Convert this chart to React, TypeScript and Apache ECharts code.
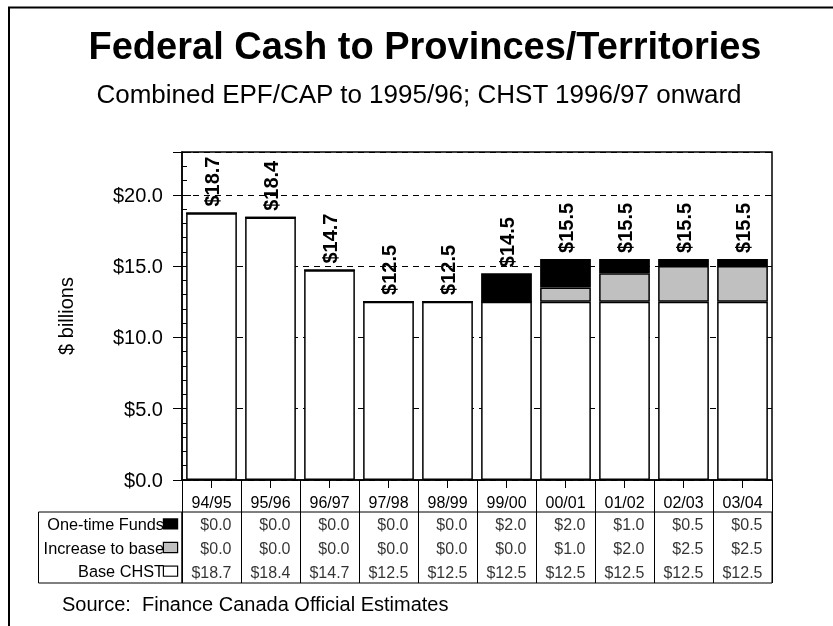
import React, { useEffect, useRef } from "react";
import * as echarts from "echarts";

const categories = ["94/95", "95/96", "96/97", "97/98", "98/99", "99/00", "00/01", "01/02", "02/03", "03/04"];
const baseCHST = [18.7, 18.4, 14.7, 12.5, 12.5, 12.5, 12.5, 12.5, 12.5, 12.5];
const increaseToBase = [0, 0, 0, 0, 0, 0, 1.0, 2.0, 2.5, 2.5];
const oneTimeFunds = [0, 0, 0, 0, 0, 2.0, 2.0, 1.0, 0.5, 0.5];
// table rows, listed bottom to top
const rowNames = ["Base CHST", "Increase to base", "One-time Funds"];
const rowKeys = ["base", "inc", "one"];
const yMin = 0;
const yMax = 23;
const yMajor = 5;

const FONT = "'Liberation Sans', Arial, Helvetica, sans-serif";
const GRAY = "#c0c0c0";

export default function App() {
  const ref = useRef<HTMLDivElement>(null);
  useEffect(() => {
    if (!ref.current) return;
    const chart = echarts.init(ref.current, null, { renderer: "svg" });
    const totals = categories.map((_, i) => baseCHST[i] + increaseToBase[i] + oneTimeFunds[i]);
    const rowData = [baseCHST, increaseToBase, oneTimeFunds];
    const tableData: any[] = [];
    rowData.forEach((arr, r) => arr.forEach((v, i) => tableData.push([i, r, v])));
    const money = (v: number) => "$" + v.toFixed(1);

    const plotGrid = { left: 182, top: 152, width: 590, height: 328 };
    const valueAxisBase = { type: "value", gridIndex: 0, min: yMin, max: yMax };

    chart.setOption({
      animation: false,
      textStyle: { fontFamily: FONT, color: "#000" },
      title: [
        {
          text: "Federal Cash to Provinces/Territories",
          left: 420,
          top: 22,
          textAlign: "center",
          textStyle: { fontFamily: FONT, fontSize: 38, fontWeight: "bold", color: "#000" },
        },
        {
          text: "Combined EPF/CAP to 1995/96; CHST 1996/97 onward",
          left: 414,
          top: 76,
          textAlign: "center",
          textStyle: { fontFamily: FONT, fontSize: 26, fontWeight: "normal", color: "#000" },
        },
      ],
      grid: [
        { ...plotGrid, show: true, borderColor: "#000", borderWidth: 1.5, backgroundColor: "transparent" },
        { left: 182, top: 480, width: 590, height: 103, show: false },
        { left: 182, top: 512, width: 590, height: 71, show: true, borderColor: "#000", borderWidth: 1 },
      ],
      xAxis: [
        {
          type: "category",
          gridIndex: 0,
          data: categories,
          position: "bottom",
          axisLine: { show: true, lineStyle: { color: "#000", width: 1.5 } },
          axisTick: { show: true, alignWithLabel: true, length: 8, lineStyle: { color: "#000" } },
          axisLabel: { show: true, fontSize: 16, margin: 14, color: "#000", fontFamily: FONT, interval: 0 },
          splitLine: { show: false },
        },
        {
          type: "category",
          gridIndex: 0,
          data: categories,
          position: "bottom",
          axisLine: { show: false },
          axisTick: { show: true, inside: true, alignWithLabel: true, length: 9, lineStyle: { color: "#000" } },
          axisLabel: { show: false },
          splitLine: { show: false },
        },
        {
          type: "category",
          gridIndex: 1,
          data: categories,
          axisLine: { show: false },
          axisTick: { show: false },
          axisLabel: { show: false },
          splitLine: { show: true, interval: 0, lineStyle: { color: "#000", width: 1 } },
        },
        {
          type: "category",
          gridIndex: 2,
          data: categories,
          axisLine: { show: false },
          axisTick: { show: false },
          axisLabel: { show: false },
          splitLine: { show: true, interval: 0, lineStyle: { color: "#000", width: 1 } },
        },
      ],
      yAxis: [
        {
          ...valueAxisBase,
          interval: yMajor,
          position: "left",
          name: "$ billions",
          nameLocation: "middle",
          nameGap: 106,
          nameTextStyle: { fontSize: 20, color: "#000", fontFamily: FONT },
          axisLine: { show: true, lineStyle: { color: "#000", width: 1.5 } },
          axisTick: { show: true, length: 9, lineStyle: { color: "#000" } },
          axisLabel: {
            fontSize: 20,
            margin: 19,
            color: "#000",
            fontFamily: FONT,
            formatter: (v: number) => (v % yMajor === 0 ? money(v) : ""),
          },
          splitLine: { show: true, lineStyle: { color: "#000", width: 1, type: [6, 5] } },
        },
        {
          ...valueAxisBase,
          interval: 1,
          position: "left",
          axisLine: { show: false },
          axisTick: { show: true, inside: true, length: 5, lineStyle: { color: "#000" } },
          axisLabel: { show: false },
          splitLine: { show: false },
        },
        {
          ...valueAxisBase,
          interval: yMajor,
          position: "left",
          axisLine: { show: false },
          axisTick: { show: true, inside: true, length: 9, lineStyle: { color: "#000" } },
          axisLabel: { show: false },
          splitLine: { show: false },
        },
        {
          ...valueAxisBase,
          interval: yMajor,
          position: "right",
          axisLine: { show: false },
          axisTick: { show: true, inside: true, length: 6, lineStyle: { color: "#000" } },
          axisLabel: { show: false },
          splitLine: { show: false },
        },
        { type: "value", gridIndex: 1, show: false },
        {
          type: "category",
          gridIndex: 2,
          data: rowKeys,
          axisLine: { show: false },
          axisTick: { show: false },
          splitLine: { show: false },
          axisLabel: {
            margin: 5,
            color: "#000",
            fontFamily: FONT,
            fontSize: 16,
            formatter: (_: string, idx: number) => `{t|${rowNames[idx]}}{${rowKeys[idx]}| }`,
            rich: {
              t: { fontSize: 16.3, color: "#000", fontFamily: FONT },
              base: { width: 13, height: 9, backgroundColor: "#fff", borderColor: "#000", borderWidth: 1.2 },
              inc: { width: 13, height: 9, backgroundColor: GRAY, borderColor: "#000", borderWidth: 1.2 },
              one: { width: 13, height: 9, backgroundColor: "#000", borderColor: "#000", borderWidth: 1.2 },
            },
          },
        },
      ],
      series: [
        {
          name: "Base CHST",
          type: "bar",
          stack: "total",
          xAxisIndex: 0,
          yAxisIndex: 0,
          barCategoryGap: "14%",
          data: baseCHST,
          itemStyle: { color: "#fff", borderColor: "#000", borderWidth: 1.5 },
        },
        {
          name: "Increase to base",
          type: "bar",
          stack: "total",
          xAxisIndex: 0,
          yAxisIndex: 0,
          barCategoryGap: "14%",
          data: increaseToBase,
          itemStyle: { color: GRAY, borderColor: "#000", borderWidth: 1.5 },
        },
        {
          name: "One-time Funds",
          type: "bar",
          stack: "total",
          xAxisIndex: 0,
          yAxisIndex: 0,
          barCategoryGap: "14%",
          data: oneTimeFunds,
          itemStyle: { color: "#000", borderColor: "#000", borderWidth: 1.5 },
          label: {
            show: true,
            position: "top",
            distance: 6,
            rotate: 90,
            align: "left",
            verticalAlign: "middle",
            fontSize: 20,
            fontWeight: "bold",
            fontFamily: FONT,
            color: "#000",
            formatter: (p: any) => money(totals[p.dataIndex]),
          },
        },
        {
          name: "table",
          type: "scatter",
          xAxisIndex: 3,
          yAxisIndex: 5,
          symbolSize: 1,
          itemStyle: { color: "rgba(0,0,0,0)" },
          data: tableData,
          label: {
            show: true,
            position: "inside",
            align: "right",
            verticalAlign: "middle",
            offset: [20, 1],
            fontSize: 16,
            fontFamily: FONT,
            color: "#000",
            formatter: (p: any) => money(p.value[2]),
          },
        },
      ],
      graphic: [
        {
          type: "rect",
          silent: true,
          shape: { x: 9, y: 7.5, width: 900, height: 700 },
          style: { fill: "none", stroke: "#000", lineWidth: 2 },
        },
        {
          type: "rect",
          silent: true,
          shape: { x: 38.5, y: 512, width: 143.5, height: 71 },
          style: { fill: "none", stroke: "#000", lineWidth: 1 },
        },
        {
          type: "text",
          silent: true,
          x: 62,
          y: 604,
          style: {
            text: "Source:  Finance Canada Official Estimates",
            font: `20px ${FONT}`,
            fill: "#000",
            textVerticalAlign: "middle",
          },
        },
      ],
    });
    return () => chart.dispose();
  }, []);
  return <div ref={ref} style={{ position: "fixed", left: 0, top: 0, width: 833, height: 626 }} />;
}
